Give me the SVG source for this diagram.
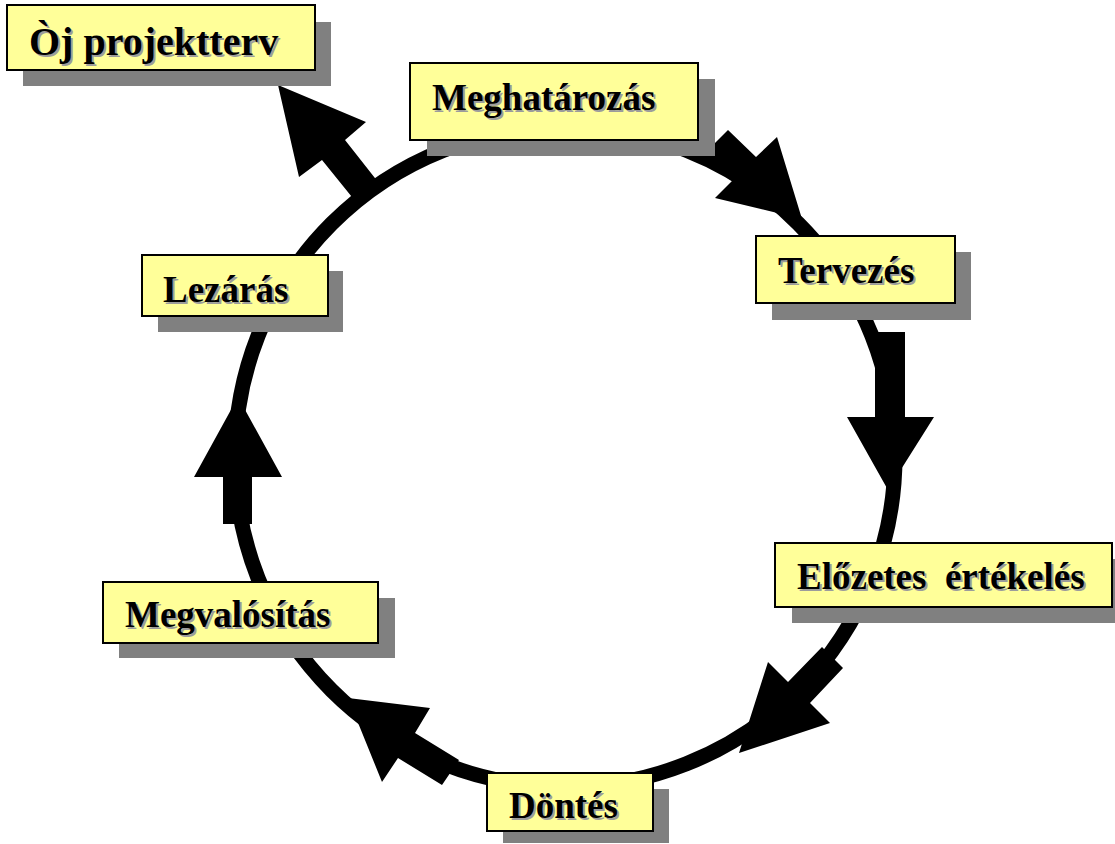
<svg xmlns="http://www.w3.org/2000/svg" width="1115" height="844" viewBox="0 0 1115 844">
  <style>
    .ring { fill: none; stroke: #000; stroke-width: 15; }
    .arrow { fill: #000; stroke: none; }
    .shadow { fill: #808080; }
    .box { fill: #FFFF99; stroke: #000; stroke-width: 2; }
    .lbl { font-family: "Liberation Serif", "Times New Roman", serif; font-weight: bold; font-size: 37px; }
    .lbl-sh { fill: #9c9c9c; }
    .lbl-fg { fill: #000; }
  </style>
  <rect width="1115" height="844" fill="#fff"/>

  <!-- cycle ring and block arrows -->
  <g id="connectors">
    <circle class="ring" cx="565" cy="457" r="330"/>
    <polygon class="arrow" points="728,130 756,157 777,137 802,219 715,198 736,177 708,150"/>
    <polygon class="arrow" points="905,332 905,417 934,417 888,490 847,417 875,417 875,332"/>
    <polygon class="arrow" points="843,668 810,703 830,723 739,753 768,662 788,682 822,647"/>
    <polygon class="arrow" points="459,760 415,733 430,708 348,698 382,782 398,758 442,785"/>
    <polygon class="arrow" points="252,524 252,477 282,477 238,397 194,477 223,477 223,524"/>
    <polygon class="arrow" points="382,187 345,140 366,122 278,85 299,177 322,160 360,207"/>
  </g>

  <g id="uj-projektterv">
    <rect class="shadow" x="23" y="22" width="308" height="64"/>
    <rect class="box" x="7" y="5" width="308" height="65"/>
    <text class="lbl lbl-sh" x="31" y="57" style="font-size:40px">Òj projektterv</text>
    <text class="lbl lbl-fg" x="29" y="55" style="font-size:40px">Òj projektterv</text>
  </g>

  <g id="meghatarozas">
    <rect class="shadow" x="427" y="79" width="288" height="77"/>
    <rect class="box" x="410" y="63" width="288" height="77"/>
    <text class="lbl lbl-sh" x="434" y="112">Meghatározás</text>
    <text class="lbl lbl-fg" x="432" y="110">Meghatározás</text>
  </g>

  <g id="tervezes">
    <rect class="shadow" x="772" y="252" width="199" height="68"/>
    <rect class="box" x="756" y="236" width="199" height="67"/>
    <text class="lbl lbl-sh" x="780" y="285">Tervezés</text>
    <text class="lbl lbl-fg" x="778" y="283">Tervezés</text>
  </g>

  <g id="elozetes-ertekeles">
    <rect class="shadow" x="792" y="559" width="330" height="64"/>
    <rect class="box" x="775" y="543" width="337" height="64"/>
    <text class="lbl lbl-sh" x="799" y="591" xml:space="preserve">Előzetes  értékelés</text>
    <text class="lbl lbl-fg" x="797" y="589" xml:space="preserve">Előzetes  értékelés</text>
  </g>

  <g id="dontes">
    <rect class="shadow" x="503" y="789" width="166" height="54"/>
    <rect class="box" x="487" y="773" width="166" height="58"/>
    <text class="lbl lbl-sh" x="511" y="820">Döntés</text>
    <text class="lbl lbl-fg" x="509" y="818">Döntés</text>
  </g>

  <g id="megvalositas">
    <rect class="shadow" x="119" y="598" width="276" height="60"/>
    <rect class="box" x="103" y="582" width="275" height="61"/>
    <text class="lbl lbl-sh" x="127" y="629">Megvalósítás</text>
    <text class="lbl lbl-fg" x="125" y="627">Megvalósítás</text>
  </g>

  <g id="lezaras">
    <rect class="shadow" x="158" y="271" width="185" height="61"/>
    <rect class="box" x="142" y="255" width="186" height="61"/>
    <text class="lbl lbl-sh" x="165" y="304">Lezárás</text>
    <text class="lbl lbl-fg" x="163" y="302">Lezárás</text>
  </g>
</svg>
